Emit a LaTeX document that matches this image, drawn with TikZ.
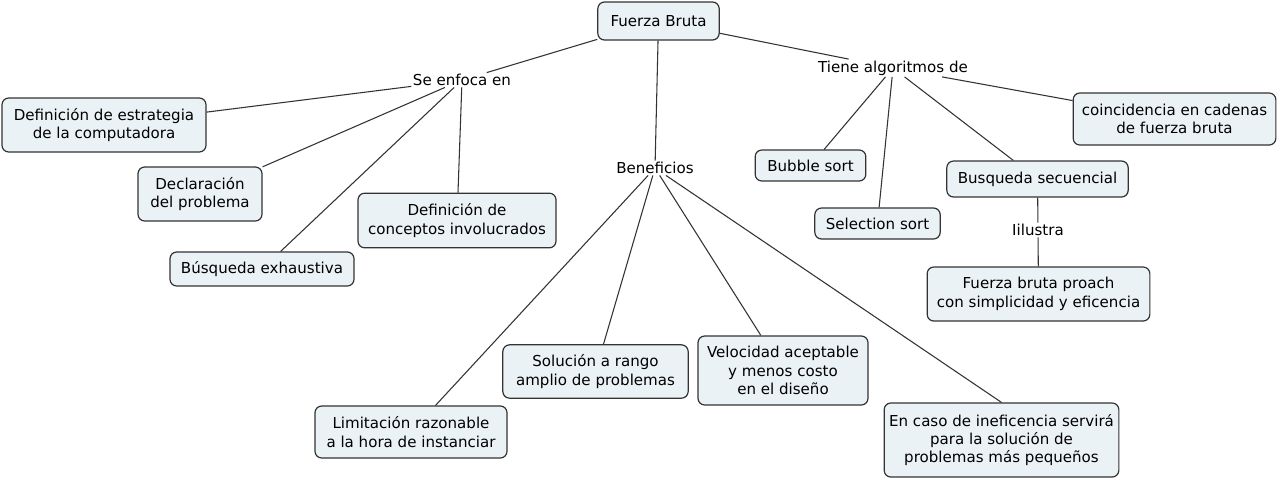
\documentclass[tikz,border=0pt]{standalone}
\usepackage{fontspec}
\setmainfont{DejaVu Sans}
\usepackage{tikz}
\usetikzlibrary{positioning}
\definecolor{ink}{HTML}{333333}
\definecolor{pale}{HTML}{EBF2F5}
\tikzset{
  box/.style={draw=ink,line width=0.9pt,rounded corners=5pt,fill=pale,align=center,
    font=\fontsize{11.3}{13.8}\selectfont,inner sep=2pt},
  note/.style={font=\fontsize{11.3}{13.8}\selectfont,inner sep=1pt,align=center},
  link/.style={draw=ink,line width=0.8pt},
}
\begin{document}
\begin{tikzpicture}[x=0.75pt,y=-0.75pt]
  \useasboundingbox[fill=white] (0,0) rectangle (1280,480);
  \node[box,minimum width=91pt,minimum height=28.5pt] (fb) at (658.5,21) {Fuerza Bruta};
  \node[note] (enf) at (462,80) {Se enfoca en};
  \node[note] (tiene) at (893,68) {Tiene algoritmos de};
  \node[note] (ben) at (655,168) {Beneficios};
  % se enfoca en
  \node[box,minimum width=153pt,minimum height=40.5pt] (estr) at (104,125) {Definición de estrategia\\de la computadora};
  \node[box,minimum width=93pt,minimum height=40.5pt] (decl) at (200,194) {Declaración\\del problema};
  \node[box,minimum width=138pt,minimum height=25.5pt] (exh) at (262,269) {Búsqueda exhaustiva};
  \node[box,minimum width=148.5pt,minimum height=41pt] (conc) at (457,220.5) {Definición de\\conceptos involucrados};
  % tiene algoritmos de
  \node[box,minimum width=83pt,minimum height=23.25pt] (bub) at (810.5,165.5) {Bubble sort};
  \node[box,minimum width=94pt,minimum height=23.25pt] (sel) at (877.5,223.5) {Selection sort};
  \node[box,minimum width=136pt,minimum height=27pt] (seq) at (1037.5,179) {Busqueda secuencial};
  \node[box,minimum width=152pt,minimum height=39pt] (coin) at (1174.5,119) {coincidencia en cadenas\\de fuerza bruta};
  \node[note] (ilu) at (1038,230) {Iilustra};
  \node[box,minimum width=167pt,minimum height=40.5pt] (proach) at (1038.5,294) {Fuerza bruta proach\\con simplicidad y eficencia};
  % beneficios
  \node[box,minimum width=139pt,minimum height=40pt] (sol) at (595.5,371.5) {Solución a rango\\amplio de problemas};
  \node[box,minimum width=127.5pt,minimum height=51.75pt] (vel) at (783,370.5) {Velocidad aceptable\\y menos costo\\en el diseño};
  \node[box,minimum width=144pt,minimum height=39pt] (lim) at (411,432) {Limitación razonable\\a la hora de instanciar};
  \node[box,minimum width=176pt,minimum height=55.5pt] (caso) at (1001.5,440) {En caso de ineficencia servirá\\para la solución de\\problemas más pequeños};
  \draw[link] (fb) -- (enf); \draw[link] (fb) -- (tiene); \draw[link] (fb) -- (ben);
  \foreach \n in {estr,decl,exh,conc}{\draw[link] (enf) -- (\n);}
  \foreach \n in {bub,sel,seq,coin}{\draw[link] (tiene) -- (\n);}
  \draw[link] (seq) -- (ilu); \draw[link] (ilu) -- (proach);
  \foreach \n in {lim,sol,vel}{\draw[link] (ben) -- (\n);}
  \draw[link] (ben) -- (caso.north);
\end{tikzpicture}
\end{document}
